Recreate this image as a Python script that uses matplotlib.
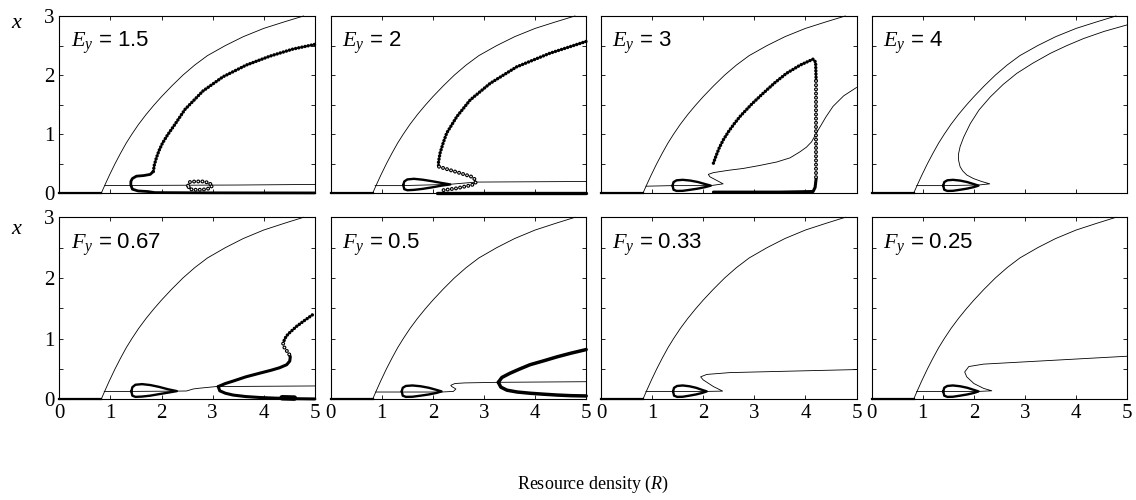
import matplotlib
matplotlib.use("Agg")
import matplotlib.pyplot as plt

plt.rcParams['lines.scale_dashes'] = False
plt.rcParams['mathtext.fontset'] = 'custom'
plt.rcParams['mathtext.rm'] = 'Liberation Sans'
plt.rcParams['mathtext.it'] = 'Liberation Serif:italic'
plt.rcParams['font.family'] = ['Liberation Serif', 'DejaVu Serif']

# ---------------- data ----------------
panel_labels = [r'$E_y\,=\,1.5$', r'$E_y\,=\,2$', r'$E_y\,=\,3$', r'$E_y\,=\,4$',
                r'$F_y\,=\,0.67$', r'$F_y\,=\,0.5$', r'$F_y\,=\,0.33$', r'$F_y\,=\,0.25$']
x_ticks = [0, 1, 2, 3, 4, 5]
x_ticklabels = ['0', '1', '2', '3', '4', '5']
y_ticks = [0, 0.5, 1, 1.5, 2, 2.5, 3]
y_ticklabels = ['0', '', '1', '', '2', '', '3']

# outer curve (same in every panel)
upper_R = [0.82, 0.90, 0.98, 1.09, 1.20, 1.31, 1.42, 1.55, 1.70, 1.85, 2.00, 2.20, 2.42,
           2.65, 2.90, 3.25, 3.60, 4.00, 4.40, 4.78]
upper_x = [0.00, 0.155, 0.305, 0.50, 0.68, 0.85, 1.00, 1.165, 1.335, 1.49, 1.635, 1.815, 2.00,
           2.17, 2.33, 2.50, 2.65, 2.79, 2.90, 3.00]
# trivial equilibrium x = 0
triv_R = [0.0, 0.82]
triv_x = [0.0, 0.0]

# generic teardrop shape (closed loop) and a larger one
tear_x = [0.13, 0.19, 0.22, 0.228, 0.215, 0.19, 0.155, 0.13, 0.105, 0.08, 0.06, 0.042, 0.04, 0.06, 0.13]
tear_x_big = [0.14, 0.20, 0.235, 0.245, 0.23, 0.205, 0.175, 0.15, 0.13, 0.10, 0.075, 0.058, 0.052, 0.07, 0.14]

# ---- panel 1 : E_y = 1.5
p1_line_R = [0.89, 2.0, 3.5, 5.0]
p1_line_x = [0.13, 0.135, 0.14, 0.15]
p1_hopf_R = [1.84, 1.78, 1.65, 1.51, 1.43, 1.40, 1.40, 1.43, 1.54, 1.73, 1.87, 3.0, 5.0]
p1_hopf_x = [0.37, 0.32, 0.30, 0.29, 0.25, 0.20, 0.14, 0.07, 0.04, 0.03, 0.012, 0.008, 0.006]
p1_max_R = [1.84, 1.86, 1.90, 1.95, 2.02, 2.12, 2.25, 2.46, 2.81, 3.20, 3.66, 4.12, 4.57, 5.0]
p1_max_x = [0.37, 0.48, 0.60, 0.72, 0.85, 0.99, 1.15, 1.42, 1.73, 1.97, 2.17, 2.32, 2.44, 2.52]
p1_unst_R = [2.52, 2.55, 2.65, 2.80, 2.92, 3.00, 2.92, 2.80, 2.65, 2.55, 2.52]
p1_unst_x = [0.13, 0.19, 0.20, 0.20, 0.18, 0.13, 0.08, 0.06, 0.06, 0.07, 0.13]

# ---- panel 2 : E_y = 2
p2_line_R = [0.87, 1.40, 2.30, 2.85, 5.0]
p2_line_x = [0.13, 0.13, 0.15, 0.19, 0.20]
p2_tear_R = [1.42, 1.44, 1.50, 1.63, 1.80, 1.98, 2.17, 2.34, 2.17, 1.98, 1.80, 1.63, 1.50, 1.44, 1.42]
p2_max_R = [2.11, 2.11, 2.14, 2.20, 2.27, 2.47, 2.73, 3.12, 3.64, 4.29, 5.0]
p2_max_x = [0.47, 0.53, 0.68, 0.85, 1.02, 1.30, 1.58, 1.86, 2.14, 2.37, 2.57]
p2_unst_R = [2.12, 2.27, 2.54, 2.76, 2.83, 2.84, 2.82, 2.76, 2.47, 2.14]
p2_unst_x = [0.45, 0.41, 0.34, 0.28, 0.23, 0.19, 0.16, 0.14, 0.085, 0.045]
p2_min_R = [2.08, 5.0]
p2_min_x = [0.012, 0.012]

# ---- panel 3 : E_y = 3
p3_line_R = [0.88, 1.40, 2.15, 2.39, 2.13, 2.10, 2.20, 2.50, 2.78, 3.10, 3.44, 3.70, 3.89,
             4.02, 4.12, 4.25, 4.40, 4.54, 4.75, 5.0]
p3_line_x = [0.12, 0.13, 0.13, 0.16, 0.28, 0.32, 0.35, 0.39, 0.42, 0.47, 0.53, 0.60, 0.70,
             0.78, 0.87, 1.07, 1.29, 1.47, 1.65, 1.79]
p3_tear_R = [1.40, 1.42, 1.48, 1.60, 1.75, 1.90, 2.04, 2.15, 2.04, 1.90, 1.75, 1.60, 1.48, 1.42, 1.40]
p3_max_R = [2.20, 2.25, 2.31, 2.39, 2.50, 2.61, 2.72, 2.95, 3.17, 3.40, 3.63, 3.90, 4.15, 4.20, 4.21]
p3_max_x = [0.51, 0.63, 0.76, 0.90, 1.05, 1.18, 1.30, 1.51, 1.69, 1.87, 2.03, 2.17, 2.27, 2.22, 1.90]
p3_unst_R = [4.21, 4.21]
p3_unst_x = [1.90, 0.25]
p3_min_R = [4.21, 4.19, 4.15, 3.50, 2.80, 2.20]
p3_min_x = [0.25, 0.10, 0.03, 0.02, 0.02, 0.02]

# ---- panel 4 : E_y = 4
p4_line_R = [0.88, 1.40, 2.09, 2.31, 2.15, 1.99, 1.86, 1.78, 1.73, 1.70, 1.70, 1.73, 1.80,
             1.93, 2.10, 2.32, 2.57, 2.84, 3.15, 3.50, 3.82, 4.15, 4.55, 5.0]
p4_line_x = [0.13, 0.13, 0.14, 0.16, 0.20, 0.25, 0.31, 0.38, 0.45, 0.56, 0.67, 0.79, 0.95,
             1.18, 1.41, 1.63, 1.84, 2.03, 2.20, 2.37, 2.50, 2.62, 2.74, 2.85]
p4_tear_R = [1.40, 1.42, 1.48, 1.59, 1.73, 1.87, 2.00, 2.09, 2.00, 1.87, 1.73, 1.59, 1.48, 1.42, 1.40]

# ---- panel 5 : F_y = 0.67
p5_line_R = [0.88, 1.41, 2.30, 2.49, 2.62, 2.71, 3.07, 5.0]
p5_line_x = [0.13, 0.13, 0.135, 0.137, 0.17, 0.18, 0.21, 0.22]
p5_tear_R = [1.41, 1.43, 1.49, 1.62, 1.78, 1.95, 2.13, 2.30, 2.13, 1.95, 1.78, 1.62, 1.49, 1.43, 1.41]
p5_tear_x = [0.13, 0.20, 0.24, 0.25, 0.235, 0.205, 0.165, 0.135, 0.11, 0.085, 0.06, 0.045, 0.04, 0.06, 0.13]
p5_cmax_R = [3.11, 3.25, 3.40, 3.65, 3.92, 4.15, 4.31, 4.45, 4.51, 4.52, 4.50]
p5_cmax_x = [0.21, 0.26, 0.30, 0.37, 0.43, 0.48, 0.52, 0.57, 0.63, 0.70, 0.74]
p5_unst_R = [4.50, 4.45, 4.40, 4.38, 4.40]
p5_unst_x = [0.74, 0.80, 0.86, 0.92, 0.97]
p5_max_R = [4.40, 4.44, 4.51, 4.64, 4.80, 5.0]
p5_max_x = [0.97, 1.04, 1.10, 1.20, 1.30, 1.42]
p5_cmin_R = [3.11, 3.14, 3.25, 3.40, 3.65, 3.92, 4.20, 4.40, 4.60, 5.0]
p5_cmin_x = [0.21, 0.14, 0.10, 0.07, 0.045, 0.03, 0.02, 0.015, 0.01, 0.006]
p5_blob_R = [4.36, 4.60]
p5_blob_x = [0.025, 0.02]

# ---- panel 6 : F_y = 0.5
p6_line_R = [0.88, 1.39, 2.17, 2.40, 2.45, 2.37, 2.35, 2.43, 2.62, 3.28, 5.0]
p6_line_x = [0.12, 0.12, 0.12, 0.13, 0.17, 0.21, 0.23, 0.26, 0.27, 0.28, 0.29]
p6_tear_R = [1.39, 1.41, 1.47, 1.60, 1.76, 1.92, 2.07, 2.17, 2.07, 1.92, 1.76, 1.60, 1.47, 1.41, 1.39]
p6_cmax_R = [3.28, 3.35, 3.51, 3.70, 3.90, 4.15, 4.43, 4.70, 5.0]
p6_cmax_x = [0.28, 0.36, 0.43, 0.50, 0.57, 0.63, 0.70, 0.76, 0.82]
p6_cmin_R = [3.28, 3.33, 3.45, 3.65, 3.90, 4.15, 4.43, 4.70, 5.0]
p6_cmin_x = [0.28, 0.20, 0.15, 0.12, 0.10, 0.085, 0.07, 0.06, 0.055]

# ---- panel 7 : F_y = 0.33
p7_line_R = [0.88, 1.41, 2.07, 2.38, 2.20, 2.00, 1.95, 2.07, 2.52, 3.50, 5.0]
p7_line_x = [0.13, 0.13, 0.13, 0.135, 0.21, 0.32, 0.37, 0.41, 0.44, 0.46, 0.49]
p7_tear_R = [1.41, 1.43, 1.49, 1.60, 1.73, 1.86, 1.98, 2.07, 1.98, 1.86, 1.73, 1.60, 1.49, 1.43, 1.41]

# ---- panel 8 : F_y = 0.25
p8_line_R = [0.88, 1.40, 2.09, 2.35, 2.19, 2.00, 1.86, 1.82, 1.90, 2.19, 2.84, 5.0]
p8_line_x = [0.13, 0.13, 0.13, 0.14, 0.18, 0.26, 0.37, 0.45, 0.54, 0.58, 0.61, 0.71]
p8_tear_R = [1.40, 1.42, 1.48, 1.59, 1.73, 1.87, 2.00, 2.09, 2.00, 1.87, 1.73, 1.59, 1.48, 1.42, 1.40]


# ---------------- drawing helpers ----------------
def thin(ax, R, x):
    ax.plot(R, x, color='k', lw=0.6, clip_on=False, solid_joinstyle='round', zorder=3)


def thick(ax, R, x, lw=1.7):
    ax.plot(R, x, color='k', lw=lw, clip_on=False, solid_joinstyle='round',
            solid_capstyle='round', zorder=4)


def beads(ax, R, x):
    ax.plot(R, x, color='k', lw=2.5, dashes=(0.01, 2.3), dash_capstyle='round',
            clip_on=False, zorder=4)


def rings(ax, R, x):
    ax.plot(R, x, color='k', lw=2.9, dashes=(0.01, 3.0), dash_capstyle='round',
            clip_on=False, zorder=5)
    ax.plot(R, x, color='w', lw=1.2, dashes=(0.01, 3.0), dash_capstyle='round',
            clip_on=False, zorder=6)


# ---------------- figure ----------------
W, H = 1136, 500
fig = plt.figure(figsize=(W / 100, H / 100), dpi=100)
col_left = [59.3, 330.7, 601.0, 871.7]
col_w = 255.5
rows = [(16.0, 193.3), (217.3, 399.3)]

axes = []
for r, (top, bot) in enumerate(rows):
    for c in range(4):
        ax = fig.add_axes([col_left[c] / W, 1 - bot / H, col_w / W, (bot - top) / H])
        ax.set_xlim(0, 5)
        ax.set_ylim(0, 3)
        ax.set_xticks(x_ticks)
        ax.set_yticks(y_ticks)
        ax.set_xticklabels(x_ticklabels if r == 1 else [])
        ax.set_yticklabels(y_ticklabels if c == 0 else [])
        ax.tick_params(direction='in', length=3, width=0.6, top=True, right=True,
                       labelsize=15, pad=3.5)
        for s in ax.spines.values():
            s.set_linewidth(0.8)
        ax.text(0.045, 0.825, panel_labels[r * 4 + c], transform=ax.transAxes,
                fontsize=16, va='baseline', ha='left')
        thin(ax, upper_R, upper_x)
        ax.plot(triv_R, triv_x, color='k', lw=1.6, clip_on=False, zorder=4)
        axes.append(ax)

a1, a2, a3, a4, a5, a6, a7, a8 = axes

# panel 1
thin(a1, p1_line_R, p1_line_x)
thick(a1, p1_hopf_R, p1_hopf_x, lw=2.0)
beads(a1, p1_max_R, p1_max_x)
rings(a1, p1_unst_R, p1_unst_x)

# panel 2
thin(a2, p2_line_R, p2_line_x)
thick(a2, p2_tear_R, tear_x_big)
beads(a2, p2_max_R, p2_max_x)
rings(a2, p2_unst_R, p2_unst_x)
thick(a2, p2_min_R, p2_min_x, lw=2.4)

# panel 3
thin(a3, p3_line_R, p3_line_x)
thick(a3, p3_tear_R, tear_x)
beads(a3, p3_max_R, p3_max_x)
rings(a3, p3_unst_R, p3_unst_x)
thick(a3, p3_min_R, p3_min_x, lw=2.2)

# panel 4
thin(a4, p4_line_R, p4_line_x)
thick(a4, p4_tear_R, tear_x)

# panel 5
thin(a5, p5_line_R, p5_line_x)
thick(a5, p5_tear_R, p5_tear_x)
thick(a5, p5_cmax_R, p5_cmax_x, lw=2.2)
rings(a5, p5_unst_R, p5_unst_x)
beads(a5, p5_max_R, p5_max_x)
thick(a5, p5_cmin_R, p5_cmin_x, lw=2.2)
thick(a5, p5_blob_R, p5_blob_x, lw=4.0)

# panel 6
thin(a6, p6_line_R, p6_line_x)
thick(a6, p6_tear_R, tear_x)
thick(a6, p6_cmax_R, p6_cmax_x, lw=2.5)
thick(a6, p6_cmin_R, p6_cmin_x, lw=2.5)

# panel 7
thin(a7, p7_line_R, p7_line_x)
thick(a7, p7_tear_R, tear_x)

# panel 8
thin(a8, p8_line_R, p8_line_x)
thick(a8, p8_tear_R, tear_x)

# axis labels
fig.text(16 / W, 1 - 24 / H, 'x', fontstyle='italic', fontsize=16, ha='center', va='center')
fig.text(16 / W, 1 - 229 / H, 'x', fontstyle='italic', fontsize=16, ha='center', va='center')
fig.text(593 / W, 1 - 484 / H, r'Resource density ($\mathit{R}$)', fontsize=13,
         ha='center', va='center')

fig.savefig('out.png', dpi=100)
